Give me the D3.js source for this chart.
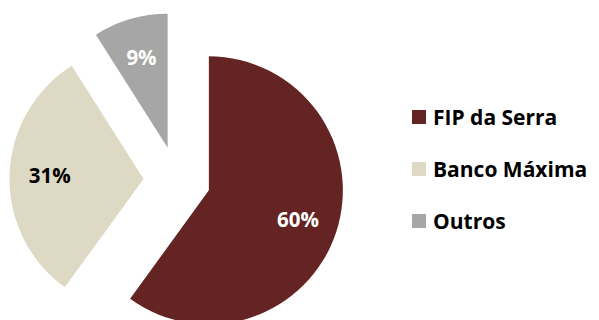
<!DOCTYPE html>
<html><head><meta charset="utf-8">
<script src="https://cdn.jsdelivr.net/npm/d3@7"></script>
<style>body{margin:0;background:#fff}svg{display:block}text{font-family:"Open Sans",sans-serif;font-weight:700}</style>
</head><body>
<svg id="c" width="599" height="320"></svg>
<script>
const categories = ["FIP da Serra", "Banco Máxima", "Outros"];
const values = [60, 31, 9];
const colors = ["#632423", "#DDD9C4", "#A6A6A6"];
const labelColors = ["#ffffff", "#000000", "#ffffff"];

const svg = d3.select("#c");
const cx = 177, cy = 180, r = 134, explode = 0.25 * r;
const pie = d3.pie().sort(null).value(d => d)(values);
const arc = d3.arc().innerRadius(0).outerRadius(r);
const labelArc = d3.arc().innerRadius(r * 0.7).outerRadius(r * 0.7);

const g = svg.append("g").attr("transform", `translate(${cx},${cy})`);
const slices = g.selectAll("g.s").data(pie).join("g")
  .attr("transform", d => {
    const a = (d.startAngle + d.endAngle) / 2;
    return `translate(${Math.sin(a) * explode},${-Math.cos(a) * explode})`;
  });
slices.append("path").attr("d", arc).attr("fill", (d, i) => colors[i]);
slices.append("text")
  .attr("transform", d => `translate(${labelArc.centroid(d)})`)
  .attr("text-anchor", "middle").attr("dy", "0.36em")
  .attr("font-size", 20.5).attr("fill", (d, i) => labelColors[i])
  .text(d => d.value + "%");

const leg = svg.append("g").attr("transform", "translate(412,110)");
const y = d3.scaleBand().domain(categories).range([0, 156]).paddingInner(0);
const items = leg.selectAll("g").data(categories).join("g")
  .attr("transform", d => `translate(0,${y(d)})`);
items.append("rect").attr("width", 14).attr("height", 14).attr("fill", (d, i) => colors[i]);
items.append("text").attr("x", 21).attr("y", 15).attr("font-size", 21).attr("fill", "#000").text(d => d);
</script>
</body></html>
